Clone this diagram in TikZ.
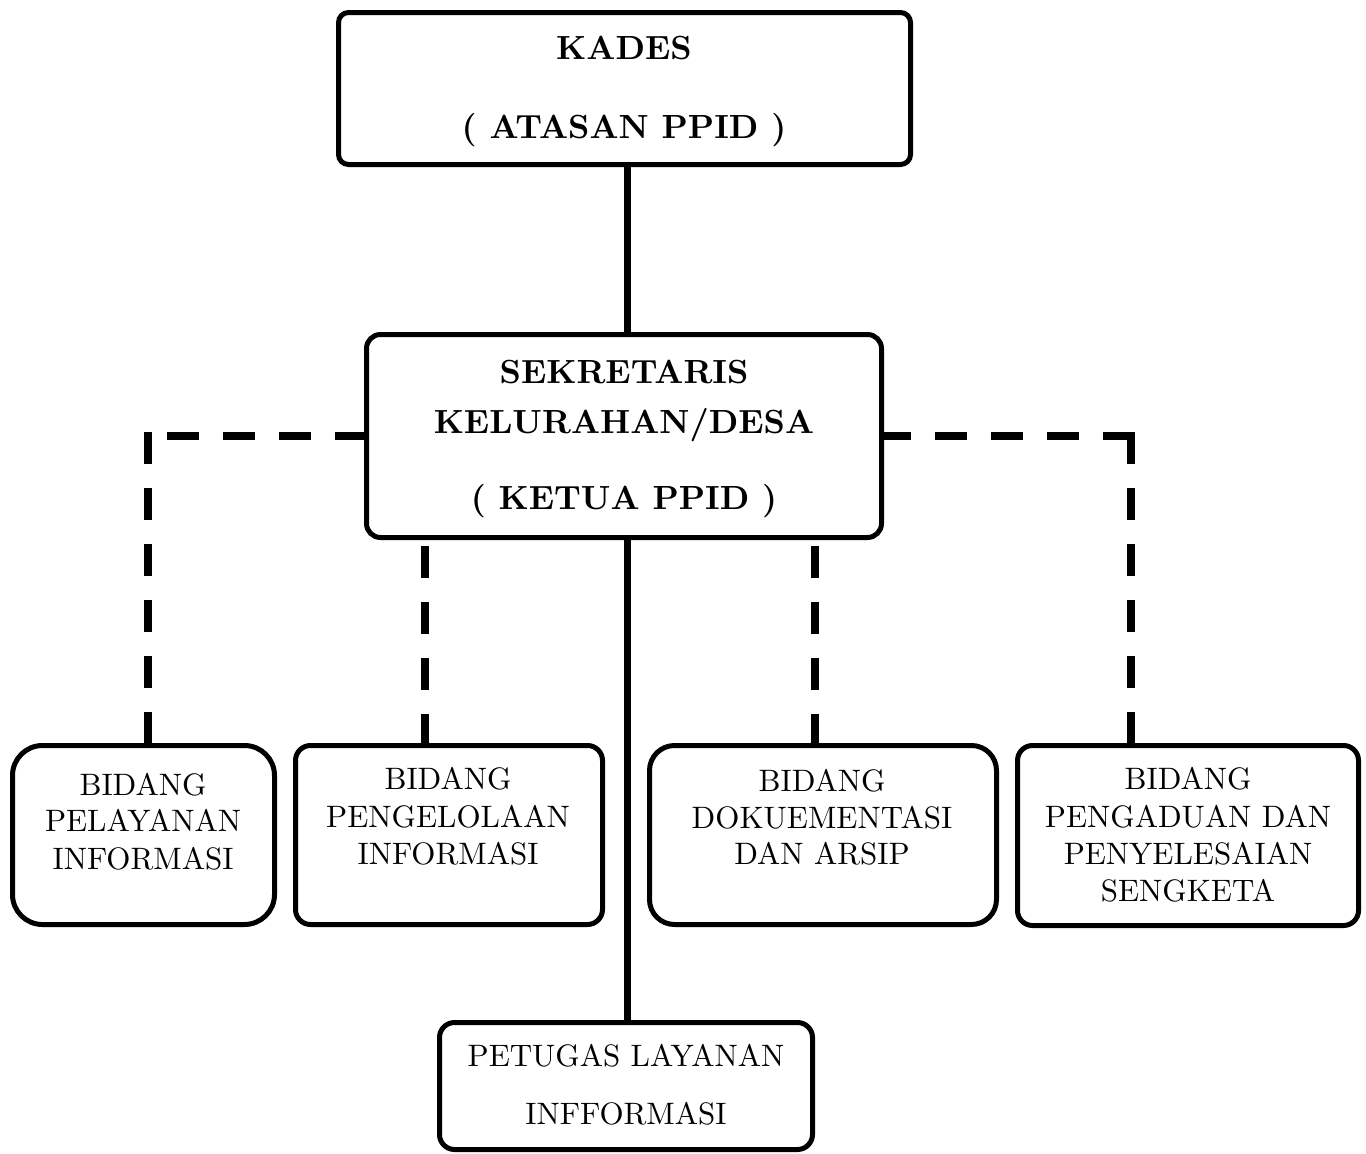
\documentclass[tikz,border=0pt]{standalone}
\usepackage{fontspec}
\setmainfont{lmroman10-regular.otf}[BoldFont=lmroman10-bold.otf]
\usetikzlibrary{calc}
\begin{document}
\begin{tikzpicture}[x=1pt,y=-1pt,
  box/.style={draw, line width=5pt, rectangle, inner sep=0pt, outer sep=0pt},
  solidline/.style={line width=7pt},
  dashline/.style={line width=8pt, dash pattern=on 32pt off 24pt},
  txt/.style={anchor=base, inner sep=0pt, font=\fontsize{31}{37}\selectfont},
  btxt/.style={anchor=base, inner sep=0pt, font=\fontsize{33.5}{40}\selectfont\bfseries}]
\useasboundingbox (0,0) rectangle (1366,1154);

% boxes
\node[box, rounded corners=10pt, minimum width=572pt, minimum height=152pt] (kades) at (624.5,88.5) {};
\node[box, rounded corners=14pt, minimum width=515pt, minimum height=203pt] (sek) at (624,436) {};
\node[box, rounded corners=30pt, minimum width=262pt, minimum height=179pt] (b1) at (143.5,835) {};
\node[box, rounded corners=15pt, minimum width=307pt, minimum height=179pt] (b2) at (449,835) {};
\node[box, rounded corners=25pt, minimum width=347pt, minimum height=179pt] (b3) at (823,835) {};
\node[box, rounded corners=15pt, minimum width=341pt, minimum height=180pt] (b4) at (1188,835.5) {};
\node[box, rounded corners=15pt, minimum width=373pt, minimum height=127pt] (pet) at (626,1086) {};

% texts
\node[btxt] (tk1) at (624,59) {KADES};
\node[btxt] (tk2) at (624,138) {( ATASAN PPID )};
\node[btxt] (ts1) at (624,383) {SEKRETARIS};
\node[btxt] (ts2) at (624,433) {KELURAHAN/DESA};
\node[btxt] (ts3) at (624,509) {( KETUA PPID )};

\node[txt] (t1a) at (143,795) {BIDANG};
\node[txt] (t1b) at (143,831) {PELAYANAN};
\node[txt] (t1c) at (143,869) {INFORMASI};

\node[txt] (t2a) at (448,789) {BIDANG};
\node[txt] (t2b) at (448,827) {PENGELOLAAN};
\node[txt] (t2c) at (448,864) {INFORMASI};

\node[txt] (t3a) at (822,791) {BIDANG};
\node[txt] (t3b) at (822,828) {DOKUEMENTASI};
\node[txt] (t3c) at (822,864) {DAN ARSIP};

\node[txt] (t4a) at (1188,789) {BIDANG};
\node[txt] (t4b) at (1188,827) {PENGADUAN DAN};
\node[txt] (t4c) at (1188,864) {PENYELESAIAN};
\node[txt] (t4d) at (1188,901) {SENGKETA};

\node[txt] (tp1) at (626,1066) {PETUGAS LAYANAN};
\node[txt] (tp2) at (626,1124) {INFFORMASI};

% connector x positions
\coordinate (c1) at (148,0);
\coordinate (c2) at (425,0);
\coordinate (c3) at (815,0);
\coordinate (c4) at (1131,0);
\coordinate (cm) at (627,0);
\coordinate (k1) at (sek.west -| c1);
\coordinate (k4) at (sek.east -| c4);

% connectors
\draw[solidline] (kades.south -| cm) -- (sek.north -| cm);
\draw[solidline] (sek.south -| cm) -- (pet.north -| cm);
\draw[dashline] (sek.west) -- (k1);
\draw[dashline] ($(k1)+(0,-4)$) -- (b1.north -| c1);
\draw[dashline] ($(k4)+(4,0)$) -- (sek.east);
\draw[dashline] ($(k4)+(0,-4)$) -- (b4.north -| c4);
\draw[dashline, dash phase=48pt] (sek.south -| c2) -- (b2.north -| c2);
\draw[dashline, dash phase=48pt] (sek.south -| c3) -- (b3.north -| c3);
\end{tikzpicture}
\end{document}
